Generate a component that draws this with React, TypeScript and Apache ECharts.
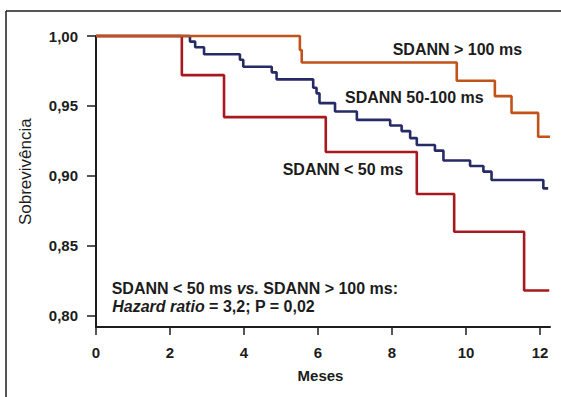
import React, { useEffect, useRef } from "react";
import * as echarts from "echarts";

// Kaplan-Meier curves (month, survival from that month on)
const highX = [0, 5.51, 5.56, 9.75, 10.78, 11.23, 11.95, 12.27];
const highY = [1.0, 0.99, 0.981, 0.968, 0.957, 0.945, 0.928, 0.928];

const lowX = [0, 2.32, 3.46, 6.21, 8.67, 9.68, 11.57, 12.25];
const lowY = [1.0, 0.972, 0.942, 0.917, 0.887, 0.86, 0.818, 0.818];

const midX = [0, 2.54, 2.68, 2.92, 3.89, 3.98, 4.75, 4.88, 5.87, 5.96, 6.04, 6.46, 7.05, 7.95, 8.26, 8.49, 8.67, 9.16, 9.39, 10.11, 10.47, 10.69, 12.09, 12.22];
const midY = [1.0, 0.996, 0.992, 0.987, 0.983, 0.978, 0.974, 0.969, 0.963, 0.959, 0.952, 0.946, 0.94, 0.936, 0.932, 0.927, 0.922, 0.918, 0.911, 0.907, 0.903, 0.897, 0.891, 0.891];

const xTicks = [0, 2, 4, 6, 8, 10, 12];
const yTicks = [0.8, 0.85, 0.9, 0.95, 1.0];

const seriesNames = ["SDANN 50-100 ms", "SDANN < 50 ms", "SDANN > 100 ms"];

const FONT = "'Liberation Sans', Arial, Helvetica, sans-serif";
const INK = "#1c1c1c";

function pairs(xs: number[], ys: number[]) {
  return xs.map((x, i) => [x, ys[i]]);
}

export default function App() {
  const ref = useRef<HTMLDivElement>(null);
  useEffect(() => {
    if (!ref.current) return;
    const chart = echarts.init(ref.current, null, { renderer: "svg" });
    const lineStyleOf = (color: string) => ({ color, width: 2.6 });
    chart.setOption({
      animation: false,
      grid: { left: 96, right: 11, top: 36, bottom: 70 },
      xAxis: {
        type: "value",
        min: 0,
        max: 12.27,
        axisLine: { show: true, lineStyle: { color: INK, width: 2 } },
        axisTick: { show: true, length: 8, customValues: xTicks, lineStyle: { color: INK, width: 1.5 } },
        axisLabel: {
          customValues: xTicks,
          margin: 18,
          color: INK,
          fontFamily: FONT,
          fontWeight: "bold",
          fontSize: 15,
        },
        splitLine: { show: false },
      },
      yAxis: {
        type: "value",
        min: 0.7919,
        max: 1.0,
        axisLine: { show: true, lineStyle: { color: INK, width: 2 } },
        axisTick: { show: true, length: 9, customValues: yTicks, lineStyle: { color: INK, width: 1.5 } },
        axisLabel: {
          customValues: yTicks,
          margin: 18,
          color: INK,
          fontFamily: FONT,
          fontWeight: "bold",
          fontSize: 15,
          formatter: (v: number) => v.toFixed(2).replace(".", ","),
        },
        splitLine: { show: false },
      },
      series: [
        {
          name: seriesNames[0],
          type: "line",
          step: "end",
          symbol: "none",
          clip: false,
          data: pairs(midX, midY),
          lineStyle: lineStyleOf("#262a66"),
          z: 2,
        },
        {
          name: seriesNames[1],
          type: "line",
          step: "end",
          symbol: "none",
          clip: false,
          data: pairs(lowX, lowY),
          lineStyle: lineStyleOf("#a8191f"),
          z: 3,
        },
        {
          name: seriesNames[2],
          type: "line",
          step: "end",
          symbol: "none",
          clip: false,
          data: pairs(highX, highY),
          lineStyle: lineStyleOf("#c0521a"),
          z: 4,
        },
      ],
      graphic: [
        { type: "line", shape: { x1: 6, y1: 11, x2: 561, y2: 11 }, style: { stroke: INK, lineWidth: 1.5 } },
        { type: "line", shape: { x1: 6, y1: 11, x2: 6, y2: 397 }, style: { stroke: INK, lineWidth: 1.5 } },
        {
          type: "text", x: 392.7, y: 49.5,
          style: { text: "SDANN > 100 ms", fill: INK, font: `bold 16px ${FONT}`, textAlign: "left", textVerticalAlign: "middle" },
        },
        {
          type: "text", x: 345, y: 97.5,
          style: { text: "SDANN 50-100 ms", fill: INK, font: `bold 16px ${FONT}`, textAlign: "left", textVerticalAlign: "middle" },
        },
        {
          type: "text", x: 282.7, y: 169,
          style: { text: "SDANN < 50 ms", fill: INK, font: `bold 16px ${FONT}`, textAlign: "left", textVerticalAlign: "middle" },
        },
        {
          type: "text", x: 111.7, y: 288,
          style: {
            text: "{b|SDANN < 50 ms }{i|vs.}{b| SDANN > 100 ms:}",
            textAlign: "left", textVerticalAlign: "middle",
            rich: {
              b: { fill: INK, fontFamily: FONT, fontWeight: "bold", fontSize: 16 },
              i: { fill: INK, fontFamily: FONT, fontWeight: "bold", fontStyle: "italic", fontSize: 16 },
            },
          },
        },
        {
          type: "text", x: 112.2, y: 306,
          style: {
            text: "{i|Hazard ratio}{b| = 3,2; P = 0,02}",
            textAlign: "left", textVerticalAlign: "middle",
            rich: {
              b: { fill: INK, fontFamily: FONT, fontWeight: "bold", fontSize: 16 },
              i: { fill: INK, fontFamily: FONT, fontWeight: "bold", fontStyle: "italic", fontSize: 16 },
            },
          },
        },
        {
          type: "text", x: 320.5, y: 375,
          style: { text: "Meses", fill: INK, font: `bold 15px ${FONT}`, textAlign: "center", textVerticalAlign: "middle" },
        },
        {
          type: "text", x: 25, y: 171.7, rotation: Math.PI / 2,
          style: { text: "Sobrevivência", fill: INK, font: `17px ${FONT}`, textAlign: "center", textVerticalAlign: "middle" },
        },
      ],
    });
    return () => chart.dispose();
  }, []);
  return <div ref={ref} style={{ width: 561, height: 397, position: "absolute", left: 0, top: 0, background: "#fff" }} />;
}
